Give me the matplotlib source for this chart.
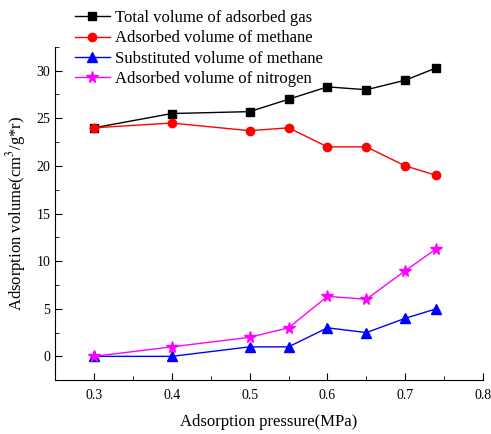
import matplotlib
matplotlib.use("Agg")
import matplotlib.pyplot as plt
from matplotlib.ticker import MultipleLocator

pressure = [0.3, 0.4, 0.5, 0.55, 0.6, 0.65, 0.7, 0.74]
total_gas = [24.0, 25.5, 25.7, 27.0, 28.3, 28.0, 29.0, 30.3]
methane = [24.0, 24.5, 23.7, 24.0, 22.0, 22.0, 20.0, 19.0]
substituted = [0.0, 0.0, 1.0, 1.0, 3.0, 2.5, 4.0, 5.0]
nitrogen = [0.0, 1.0, 2.0, 3.0, 6.3, 6.0, 9.0, 11.3]

plt.rcParams["font.family"] = ["Liberation Serif", "DejaVu Serif"]
plt.rcParams["mathtext.fontset"] = "stix"

fig = plt.figure(figsize=(4.91, 4.34), dpi=100)
ax = fig.add_axes([0.112, 0.124, 0.872, 0.768])

ax.plot(pressure, total_gas, "s-", color="black", lw=1, ms=5.5, label="Total volume of adsorbed gas")
ax.plot(pressure, methane, "o-", color="red", lw=1, ms=6, label="Adsorbed volume of methane")
ax.plot(pressure, substituted, "^-", color="blue", lw=1, ms=6.5, label="Substituted volume of methane")
ax.plot(pressure, nitrogen, "*-", color="magenta", lw=1, ms=8.5, label="Adsorbed volume of nitrogen")

ax.set_xlim(0.25, 0.8)
ax.set_ylim(-2.5, 32.5)
ax.xaxis.set_major_locator(MultipleLocator(0.1))
ax.xaxis.set_minor_locator(MultipleLocator(0.05))
ax.yaxis.set_major_locator(MultipleLocator(5))
ax.yaxis.set_minor_locator(MultipleLocator(2.5))
ax.tick_params(which="both", direction="in", labelsize=10)
ax.tick_params(which="major", length=5)
ax.tick_params(which="minor", length=3)
ax.tick_params(axis="x", pad=6)
ax.spines["top"].set_visible(False)
ax.spines["right"].set_visible(False)

ax.set_xlabel("Adsorption pressure(MPa)", fontsize=12, labelpad=9)
ax.set_ylabel("Adsorption volume(cm$^3$/g*r)", fontsize=12, labelpad=6)

ax.legend(loc="upper left", bbox_to_anchor=(0.03, 1.13), frameon=False,
          fontsize=12, handlelength=2.1, handletextpad=0.3, labelspacing=0.25,
          borderaxespad=0)

fig.savefig("out.png", dpi=100)
